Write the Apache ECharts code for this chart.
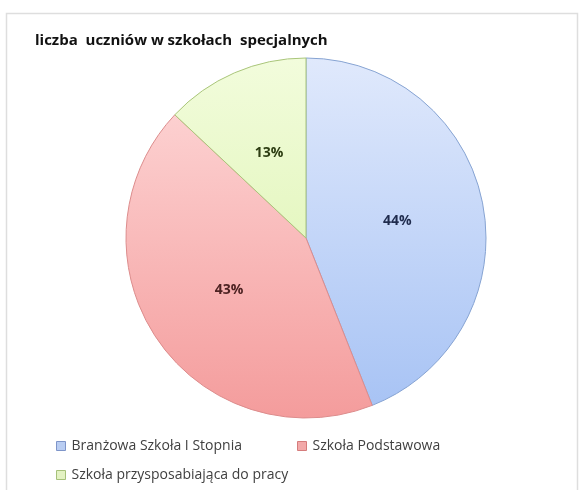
<!DOCTYPE html>
<html><head><meta charset="utf-8">
<script src="https://cdn.jsdelivr.net/npm/echarts@6/dist/echarts.min.js"></script>
<style>html,body{margin:0;padding:0;background:#fff}#c{width:580px;height:490px}</style>
</head><body><div id="c"></div>
<script>
const title = 'liczba  uczniów w szkołach  specjalnych';
const categories = ['Branżowa Szkoła I Stopnia', 'Szkoła Podstawowa', 'Szkoła przysposabiająca do pracy'];
const values = [44, 43, 13];
const topColors = ['#e0e9fc', '#fedada', '#f2fcdc'];
const bottomColors = ['#a6c2f4', '#f49c9c', '#d8f2a6'];
const borderColors = ['#86a3d2', '#dc8c8c', '#a9c57a'];
const labelColors = ['#1f2b4d', '#4d2222', '#2d3d12'];
const legendFill = ['#b9cdf2', '#f2a9a9', '#e3f2c2'];
const legendBorder = ['#7e95c9', '#d57c7c', '#a6c17a'];

const chart = echarts.init(document.getElementById('c'), null, {renderer: 'canvas'});
const font = '"Open Sans", "Liberation Sans", sans-serif';
const cx = 306, cy = 238, r = 180;

const data = categories.map((n, i) => ({
  name: n, value: values[i],
  itemStyle: {
    color: new echarts.graphic.LinearGradient(0, cy - r, 0, cy + r, [
      {offset: 0, color: topColors[i]}, {offset: 1, color: bottomColors[i]}
    ], true),
    borderColor: borderColors[i], borderWidth: 1
  },
  label: {color: labelColors[i]}
}));

const legendPos = [[51, 434], [292, 434], [51, 463]];
const legends = categories.map((n, i) => ({
  left: legendPos[i][0], top: legendPos[i][1],
  itemWidth: 9, itemHeight: 9, itemGap: 4,
  icon: 'rect',
  selectedMode: false,
  data: [{name: n, itemStyle: {color: legendFill[i], borderColor: legendBorder[i], borderWidth: 1}}],
  textStyle: {fontFamily: font, fontSize: 14, color: '#404040', padding: [0, 0, 0, 1]}
}));

chart.setOption({
  animation: false,
  graphic: [{
    type: 'rect', shape: {x: 6.5, y: 13.5, width: 571, height: 490},
    style: {fill: 'none', stroke: '#dedede', lineWidth: 1.5}, silent: true
  }],
  title: {
    text: title, left: 30, top: 28,
    textStyle: {fontFamily: font, fontSize: 15, fontWeight: 'bold', color: '#111'}
  },
  legend: legends,
  series: [{
    type: 'pie',
    center: [cx, cy], radius: r,
    startAngle: 90, clockwise: true,
    label: {
      position: 'inside', formatter: '{d}%',
      fontFamily: font, fontSize: 14, fontWeight: 'bold'
    },
    labelLine: {show: false},
    emphasis: {disabled: true},
    data: data
  }]
});
</script></body></html>
